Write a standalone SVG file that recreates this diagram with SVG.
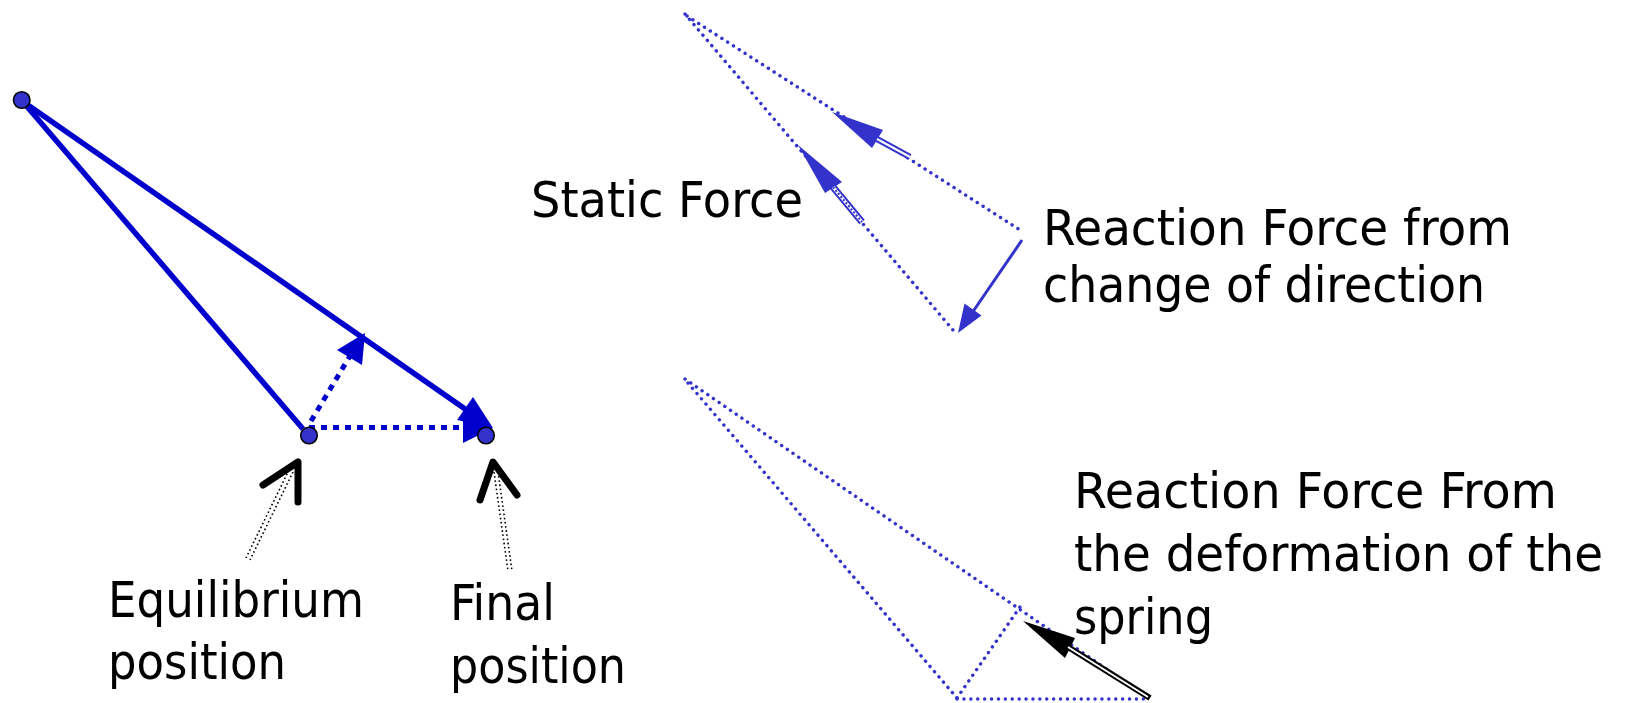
<svg xmlns="http://www.w3.org/2000/svg" width="1626" height="703" viewBox="0 0 1626 703">
<style>
.lbl{font-family:"DejaVu Sans Condensed","DejaVu Sans",sans-serif;font-stretch:condensed;font-size:50px;fill:#000}
.solid{stroke:#0000cc;stroke-width:5.5;fill:none}
.dash{stroke:#0000cc;stroke-width:5;stroke-dasharray:6 6;fill:none}
.dot{stroke:#3333cc;stroke-width:3.4;stroke-dasharray:0.1 6.8;stroke-linecap:round;fill:none}
.bdot{stroke:#000;stroke-width:1.6;stroke-dasharray:1.6 2.6;fill:none}
.pt{fill:#3333cc;stroke:#000;stroke-width:1.5}
.head{fill:#0000cc}
.headL{fill:#3333cc}
.caret{stroke:#000;stroke-width:7;stroke-linecap:round;stroke-linejoin:round;fill:none}
</style>
<rect width="1626" height="703" fill="#fff"/>
<g id="connectors">
  <line class="solid" x1="24" y1="103" x2="303" y2="429"/>
  <line class="solid" x1="25" y1="103" x2="468" y2="411"/>
  <polygon class="head" points="493,428 457,420 473,397"/>
  <line class="dash" x1="309" y1="427.5" x2="465" y2="427.5"/>
  <polygon class="head" points="493,428 463,413 463,443"/>
  <line class="dash" x1="311" y1="421" x2="350" y2="356"/>
  <polygon class="head" points="365,333 337,350 362,365"/>
  <polyline class="caret" points="263,485 298,462 298,502"/>
  <line class="bdot" x1="293" y1="472" x2="250" y2="560"/>
  <line class="bdot" x1="289" y1="470" x2="246" y2="558"/>
  <polyline class="caret" points="480,500 493,462 517,495"/>
  <line class="bdot" x1="498" y1="472" x2="512" y2="571"/>
  <line class="bdot" x1="494" y1="472" x2="508" y2="571"/>
  <line class="dot" x1="687" y1="16" x2="1020" y2="230"/>
  <line class="dot" x1="685" y1="14" x2="953" y2="330"/>
  <polygon class="headL" points="832,112 872,148 883,130"/>
  <line x1="877" y1="139" x2="910" y2="157" stroke="#3333cc" stroke-width="6"/>
  <line x1="877" y1="139" x2="910" y2="157" stroke="#fff" stroke-width="2"/>
  <polygon class="headL" points="798,145 825,193 842,182"/>
  <line x1="833" y1="187" x2="862" y2="222" stroke="#3333cc" stroke-width="7"/>
  <line x1="833" y1="187" x2="862" y2="222" stroke="#fff" stroke-width="3"/>
  <line x1="833" y1="187" x2="862" y2="222" stroke="#3333cc" stroke-width="2" stroke-dasharray="2 2"/>
  <line x1="1022" y1="240" x2="972" y2="313" stroke="#3333cc" stroke-width="3"/>
  <polygon class="headL" points="958,333 964.5,303.5 981.5,315.5"/>
  <line class="dot" x1="685" y1="379" x2="1150" y2="699"/>
  <line class="dot" x1="688" y1="383" x2="957" y2="698"/>
  <line class="dot" x1="957" y1="699" x2="1150" y2="699"/>
  <line class="dot" x1="957" y1="698" x2="1020" y2="607"/>
  <polygon fill="#000" points="1023,621 1065,658 1075,638"/>
  <line x1="1068" y1="647" x2="1150" y2="698" stroke="#000" stroke-width="6"/>
  <line x1="1068" y1="647" x2="1148" y2="697" stroke="#fff" stroke-width="2"/>
</g>
<g id="point-pivot"><circle class="pt" cx="21.7" cy="100" r="8.3"/></g>
<g id="point-equilibrium"><circle class="pt" cx="309" cy="435.5" r="8.3"/></g>
<g id="point-final"><circle class="pt" cx="486" cy="435.5" r="8.3"/></g>
<g id="label-static"><text class="lbl" x="531" y="217" textLength="272" lengthAdjust="spacingAndGlyphs">Static Force</text></g>
<g id="label-reaction-direction">
  <text class="lbl" x="1043" y="245" textLength="469" lengthAdjust="spacingAndGlyphs">Reaction Force from</text>
  <text class="lbl" x="1043" y="302" textLength="442" lengthAdjust="spacingAndGlyphs">change of direction</text>
</g>
<g id="label-reaction-spring">
  <text class="lbl" x="1074" y="508" textLength="483" lengthAdjust="spacingAndGlyphs">Reaction Force From</text>
  <text class="lbl" x="1074" y="571" textLength="529" lengthAdjust="spacingAndGlyphs">the deformation of the</text>
  <text class="lbl" x="1074" y="634" textLength="139" lengthAdjust="spacingAndGlyphs">spring</text>
</g>
<g id="label-equilibrium">
  <text class="lbl" x="108" y="617" textLength="256" lengthAdjust="spacingAndGlyphs">Equilibrium</text>
  <text class="lbl" x="108" y="679" textLength="178" lengthAdjust="spacingAndGlyphs">position</text>
</g>
<g id="label-final">
  <text class="lbl" x="450" y="620" textLength="105" lengthAdjust="spacingAndGlyphs">Final</text>
  <text class="lbl" x="450" y="683" textLength="176" lengthAdjust="spacingAndGlyphs">position</text>
</g>
</svg>
